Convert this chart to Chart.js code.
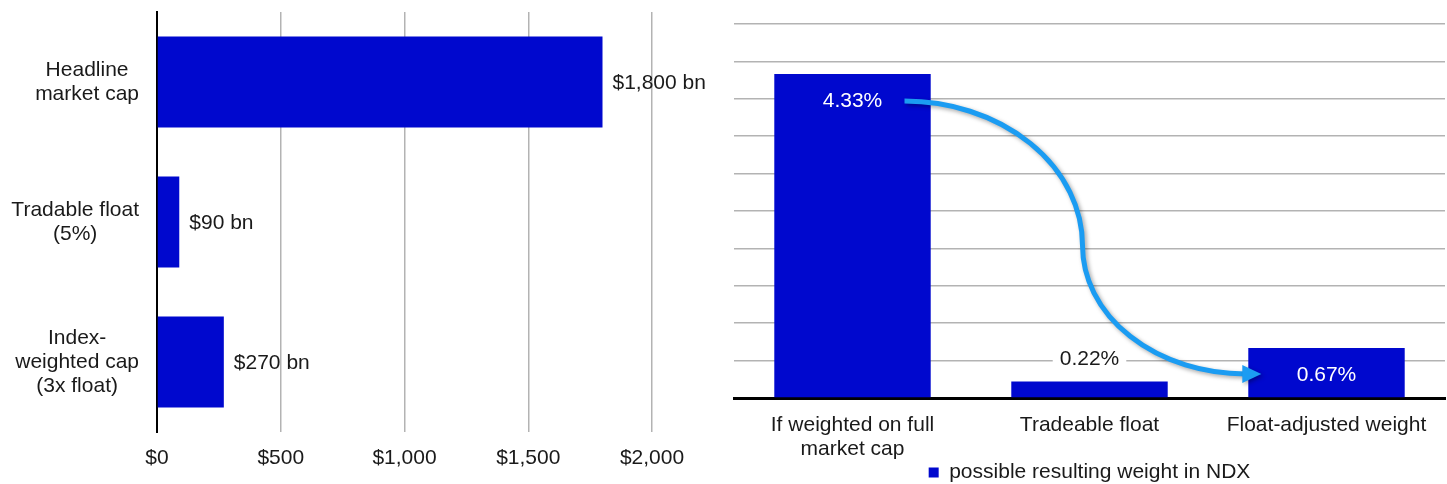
<html lang="en">
<head>
  <meta charset="utf-8">
  <script src="https://cdn.jsdelivr.net/npm/chart.js@4.4.1/dist/chart.umd.min.js"></script>
  <style>
    body { margin: 0; background: #fff; }
    #left { position: absolute; left: 0; top: 0; }
    #right { position: absolute; left: 720px; top: 0; }
  </style>
</head>
<body>
  <canvas id="left" width="720" height="484"></canvas>
  <canvas id="right" width="727" height="484"></canvas>
<script>
// left chart: market cap vs float
const capCategories = [['Headline', 'market cap'], ['Tradable float', '(5%)'], ['Index-', 'weighted cap', '(3x float)']];
const capValues = [1800, 90, 270];
const capTicks = [0, 500, 1000, 1500, 2000];

// right chart: weight in NDX
const weightCategories = [['If weighted on full', 'market cap'], 'Tradeable float', 'Float-adjusted weight'];
const weightValues = [4.33, 0.22, 0.67];
const weightSeries = 'possible resulting weight in NDX';

const barColor = '#0008ce';
const arrowColor = '#1b9cf2';
const textColor = '#1a1a1a';
const fontFamily = '"Liberation Sans", Arial, Helvetica, sans-serif';
const fontSize = 21;

Chart.defaults.font.family = fontFamily;
Chart.defaults.font.size = fontSize;
Chart.defaults.color = textColor;

// bar value labels + category labels (block right-aligned, lines centred)
const capLabelPlugin = {
  id: 'capLabels',
  afterDraw(chart) {
    const ctx = chart.ctx;
    const meta = chart.getDatasetMeta(0);
    const yScale = chart.scales.y;
    ctx.save();
    ctx.font = fontSize + 'px ' + fontFamily;
    ctx.fillStyle = textColor;
    ctx.textBaseline = 'middle';
    ctx.textAlign = 'left';
    meta.data.forEach((bar, i) => {
      ctx.fillText('$' + capValues[i].toLocaleString('en-US') + ' bn', bar.x + 10, bar.y + 1);
    });
    ctx.textAlign = 'center';
    capCategories.forEach((lines, i) => {
      const y = yScale.getPixelForTick(i);
      const bw = Math.max(...lines.map(l => ctx.measureText(l).width));
      const cx = 139 - bw / 2;
      const y0 = y - (lines.length - 1) * 12;
      lines.forEach((l, j) => ctx.fillText(l, cx, y0 + j * 24));
    });
    ctx.restore();
  }
};

new Chart(document.getElementById('left'), {
  type: 'bar',
  data: {
    labels: capCategories,
    datasets: [{ data: capValues, backgroundColor: barColor, barPercentage: 0.65, categoryPercentage: 1 }]
  },
  options: {
    indexAxis: 'y',
    responsive: false,
    animation: false,
    layout: { padding: { top: 12, right: 68, left: 0, bottom: 0 } },
    plugins: { legend: { display: false }, tooltip: { enabled: false } },
    scales: {
      y: {
        afterFit: s => { s.width = 157; s.paddingTop = 0; s.paddingBottom = 0; },
        grid: { display: false },
        border: { display: true, color: '#000', width: 2 },
        ticks: { display: false }
      },
      x: {
        min: 0, max: 2000,
        afterFit: s => { s.height = 52; s.paddingLeft = 0; s.paddingRight = 0; },
        afterBuildTicks: s => { s.ticks = capTicks.map(v => ({ value: v })); },
        grid: { color: '#b3b3b3', lineWidth: 1.5, drawTicks: false },
        border: { display: false },
        ticks: { padding: 14, color: textColor, callback: v => '$' + v.toLocaleString('en-US') }
      }
    }
  },
  plugins: [capLabelPlugin]
});

const weightLabelPlugin = {
  id: 'weightLabels',
  afterDatasetsDraw(chart) {
    const ctx = chart.ctx;
    const meta = chart.getDatasetMeta(0);
    ctx.save();
    ctx.font = fontSize + 'px ' + fontFamily;
    ctx.textAlign = 'center';
    ctx.textBaseline = 'middle';
    meta.data.forEach((bar, i) => {
      const txt = weightValues[i].toFixed(2) + '%';
      const h = bar.base - bar.y;
      if (h > 40) {
        ctx.fillStyle = '#fff';
        ctx.fillText(txt, bar.x, bar.y + 27);
      } else {
        const y = bar.y - 22;
        const w = ctx.measureText(txt).width + 14;
        ctx.fillStyle = '#fff';
        ctx.fillRect(bar.x - w / 2, y - 12, w, 24);
        ctx.fillStyle = textColor;
        ctx.fillText(txt, bar.x, y);
      }
    });
    ctx.restore();
  }
};

// curved arrow from the full-cap label to the float-adjusted bar
const arrowPlugin = {
  id: 'arrow',
  afterDraw(chart) {
    const ctx = chart.ctx;
    const bars = chart.getDatasetMeta(0).data;
    const sx = bars[0].x + 52, sy = bars[0].y + 27;
    const tx = bars[2].x - bars[2].width / 2 + 13, ty = bars[2].y + 26;
    const ex = tx - 16, ey = ty;
    const mx = bars[1].x - 7, my = (sy + ty) / 2 + 8;
    ctx.save();
    ctx.shadowColor = 'rgba(0,0,0,0.35)';
    ctx.shadowBlur = 4;
    ctx.shadowOffsetX = 2;
    ctx.shadowOffsetY = 2;
    ctx.strokeStyle = arrowColor;
    ctx.lineWidth = 5;
    ctx.beginPath();
    ctx.ellipse(sx, my, mx - sx, my - sy, 0, -Math.PI / 2, 0);
    ctx.ellipse(ex, my, ex - mx, ey - my, 0, Math.PI, Math.PI / 2, true);
    ctx.stroke();
    ctx.fillStyle = arrowColor;
    ctx.beginPath();
    ctx.moveTo(tx, ty);
    ctx.lineTo(tx - 19, ty - 9);
    ctx.lineTo(tx - 19, ty + 9);
    ctx.closePath();
    ctx.fill();
    ctx.restore();
  }
};

new Chart(document.getElementById('right'), {
  type: 'bar',
  data: {
    labels: weightCategories,
    datasets: [{ label: weightSeries, data: weightValues, backgroundColor: barColor, barPercentage: 0.66, categoryPercentage: 1 }]
  },
  options: {
    responsive: false,
    animation: false,
    layout: { padding: { top: 24, right: 2, left: 14, bottom: -9 } },
    plugins: {
      tooltip: { enabled: false },
      legend: {
        position: 'bottom',
        labels: { boxWidth: 10, boxHeight: 10, padding: 0, color: textColor, font: { size: fontSize } }
      }
    },
    scales: {
      y: {
        min: 0, max: 5,
        afterFit: s => { s.width = 0; },
        grid: { color: '#b3b3b3', lineWidth: 1.5, drawTicks: false },
        border: { display: false },
        ticks: { display: false, stepSize: 0.5 }
      },
      x: {
        afterFit: s => { s.height = 64; },
        grid: { display: false },
        border: { display: true, color: '#000', width: 3 },
        ticks: { padding: 7, color: textColor, maxRotation: 0, font: { size: fontSize, lineHeight: 1.15 } }
      }
    }
  },
  plugins: [weightLabelPlugin, arrowPlugin]
});
</script>
</body>
</html>
